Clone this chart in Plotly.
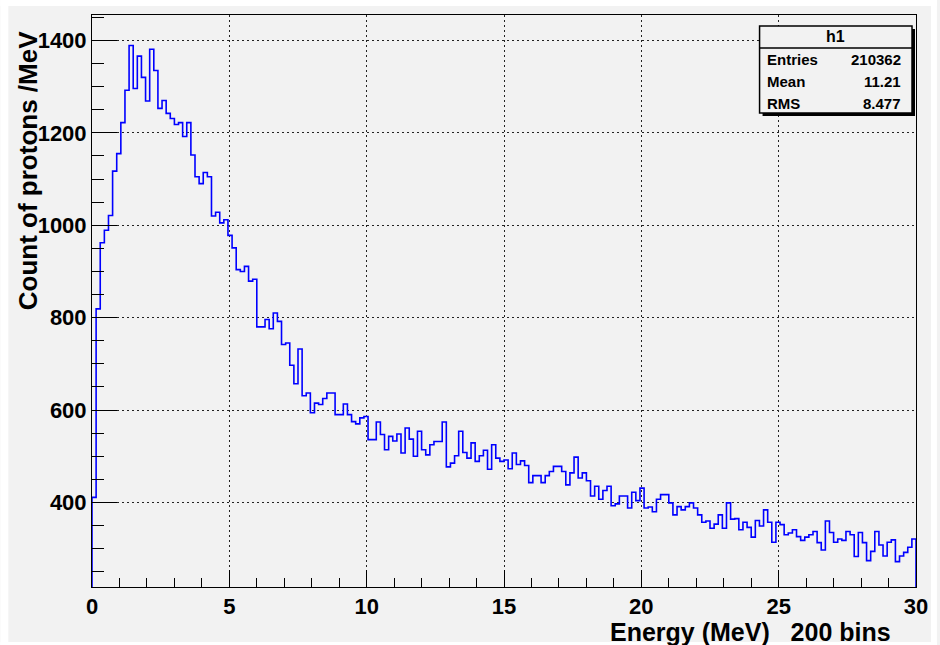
import numpy as np
import plotly.graph_objects as go

# ---- data (200 bins, 0-30 MeV) ----
x_min, x_max, n_bins = 0.0, 30.0, 200
counts = [
    411, 819, 962, 989, 1021, 1117, 1155, 1222, 1292, 1389,
    1296, 1366, 1320, 1269, 1381, 1335, 1253, 1270, 1242, 1231,
    1218, 1222, 1192, 1222, 1152, 1105, 1090, 1114, 1105, 1020,
    1028, 1005, 1012, 978, 951, 904, 900, 911, 879, 883,
    780, 780, 796, 776, 810, 792, 742, 745, 697, 657,
    732, 631, 637, 594, 615, 612, 625, 637, 637, 590,
    590, 613, 590, 575, 570, 583, 586, 536, 536, 574,
    547, 514, 543, 533, 548, 507, 561, 537, 500, 554,
    514, 503, 525, 532, 532, 574, 477, 485, 501, 554,
    508, 496, 529, 489, 501, 513, 472, 525, 496, 489,
    492, 473, 507, 482, 490, 480, 443, 458, 458, 443,
    458, 467, 478, 478, 467, 438, 464, 498, 453, 464,
    447, 414, 435, 407, 426, 435, 393, 397, 414, 414,
    388, 422, 404, 431, 388, 390, 380, 407, 417, 417,
    399, 373, 391, 384, 391, 399, 388, 373, 357, 360,
    344, 353, 373, 344, 399, 364, 365, 341, 357, 346,
    325, 361, 349, 384, 357, 314, 357, 352, 330, 334,
    341, 326, 318, 325, 330, 337, 313, 297, 360, 335,
    314, 321, 318, 337, 330, 283, 335, 313, 274, 294,
    337, 308, 284, 314, 319, 272, 284, 292, 303, 321,
]
x_tick_vals = [0, 5, 10, 15, 20, 25, 30]
y_tick_vals = [400, 600, 800, 1000, 1200, 1400]
y_range = [217, 1455]
stats_title = "h1"
stats_labels = ["Entries", "Mean", "RMS"]
stats_values = ["210362", "11.21", "8.477"]
x_title = "Energy (MeV)\u00a0\u00a0\u00a0200 bins"
y_title = "Count of protons /MeV"

# ---- build step outline from bin contents ----
edges = np.linspace(x_min, x_max, n_bins + 1)
c = np.asarray(counts, dtype=float)
xs = np.concatenate([[edges[0]], edges[:-1], [edges[-1]], [edges[-1]]])
ys = np.concatenate([[y_range[0]], c, [c[-1]], [y_range[0]]])

W, H = 940, 645
L, R, T, B = 92, 21, 15, 58
PW, PH = W - L - R, H - T - B
def PX(px):
    return (px - L) / PW
def PY(py):
    return (H - B - py) / PH

BG = "#f2f2f2"
FONT = "Liberation Sans"

fig = go.Figure()
fig.add_trace(go.Scatter(
    x=xs, y=ys, mode="lines", line=dict(color="#0000ff", width=1.6, shape="hv"),
    hoverinfo="skip", showlegend=False,
))

axis_common = dict(
    showline=True, linecolor="black", linewidth=1, mirror=True,
    ticks="inside", tickcolor="black", tickwidth=1,
    showgrid=True, gridcolor="#222222", gridwidth=1, griddash="2px,3px",
    zeroline=False,
    tickfont=dict(family=FONT, size=22, color="black", weight="bold"),
)
fig.update_xaxes(
    range=[x_min, x_max], tickvals=x_tick_vals, ticklen=17,
    ticklabelstandoff=0,
    minor=dict(ticks="inside", ticklen=9, dtick=1, tickcolor="black", showgrid=False),
    **axis_common,
)
fig.update_yaxes(
    range=y_range, tickvals=y_tick_vals, ticklen=25,
    minor=dict(ticks="inside", ticklen=12, dtick=50, tick0=0, tickcolor="black", showgrid=False),
    **axis_common,
)

shapes = []
# white border strips around the grey canvas
for (x0, y0, x1, y1) in [(0, 0, W, 6), (0, 642, W, H), (0, 0, 8, H), (934, 0, W, H)]:
    shapes.append(dict(type="rect", xref="paper", yref="paper",
                       x0=PX(x0), x1=PX(x1), y0=PY(y1), y1=PY(y0),
                       fillcolor="white", line=dict(width=0), layer="above"))
# stats box
bx0, bx1, by0, by1, sh = 762, 915, 26, 113, 3
shapes.append(dict(type="rect", xref="paper", yref="paper",
                   x0=PX(bx0 + sh), x1=PX(bx1 + sh), y0=PY(by1 + sh), y1=PY(by0 + sh),
                   fillcolor="black", line=dict(width=0), layer="above"))
shapes.append(dict(type="rect", xref="paper", yref="paper",
                   x0=PX(bx0), x1=PX(bx1), y0=PY(by1), y1=PY(by0),
                   fillcolor=BG, line=dict(color="black", width=1.5), layer="above"))
shapes.append(dict(type="line", xref="paper", yref="paper",
                   x0=PX(bx0), x1=PX(bx1), y0=PY(48), y1=PY(48),
                   line=dict(color="black", width=1.5), layer="above"))

ann = []
ann.append(dict(xref="paper", yref="paper", x=PX((bx0 + bx1) / 2), y=PY(37),
                text=stats_title, showarrow=False, xanchor="center", yanchor="middle",
                font=dict(family=FONT, size=16, color="black", weight="bold")))
for i, (lab, val) in enumerate(zip(stats_labels, stats_values)):
    yy = PY(60 + i * 21.5)
    ann.append(dict(xref="paper", yref="paper", x=PX(767), y=yy, text=lab,
                    showarrow=False, xanchor="left", yanchor="middle",
                    font=dict(family=FONT, size=15, color="black", weight="bold")))
    ann.append(dict(xref="paper", yref="paper", x=PX(906), y=yy, text=val,
                    showarrow=False, xanchor="right", yanchor="middle",
                    font=dict(family=FONT, size=15, color="black", weight="bold")))
ann.append(dict(xref="paper", yref="paper", x=PX(896), y=PY(632), text=x_title,
                showarrow=False, xanchor="right", yanchor="middle",
                font=dict(family=FONT, size=25, color="black", weight="bold")))
ann.append(dict(xref="paper", yref="paper", x=PX(28), y=PY(171), text=y_title,
                showarrow=False, textangle=-90, xanchor="center", yanchor="middle",
                font=dict(family=FONT, size=26, color="black", weight="bold")))

fig.update_layout(
    width=W, height=H, margin=dict(l=L, r=R, t=T, b=B, pad=0),
    paper_bgcolor=BG, plot_bgcolor=BG,
    shapes=shapes, annotations=ann, showlegend=False,
)
fig.write_html("out.html")
